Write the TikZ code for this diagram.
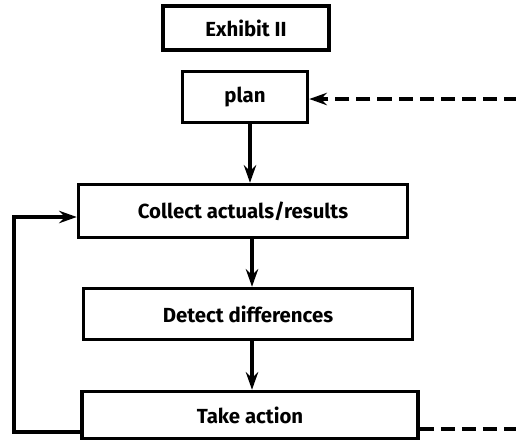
\documentclass[tikz,border=0pt]{standalone}
\usepackage{fontspec}
\setmainfont{Fira Sans}
\usetikzlibrary{arrows.meta}

\tikzset{
  stepbox/.style={draw, line width=2pt, inner sep=0pt, font=\bfseries\fontsize{11.6}{13}\selectfont},
  flow/.style={line width=1.8pt, -{Stealth[length=10pt,width=7pt]}},
  feedback/.style={line width=1.8pt, dash pattern=on 8pt off 4pt}
}

\begin{document}
\begin{tikzpicture}[x=0.02cm, y=-0.02cm]

\useasboundingbox (0,0) rectangle (516,441);

% ===== Boxes =====
\node[stepbox, minimum width=3.32cm, minimum height=0.88cm] (title)   at (246,28)  {Exhibit II};
\node[stepbox, minimum width=2.5cm,  minimum height=1.02cm] (plan)    at (245,97)  {plan};
\node[stepbox, minimum width=6.58cm, minimum height=1.06cm] (collect) at (243,211) {Collect actuals/results};
\node[stepbox, minimum width=6.58cm, minimum height=1.02cm] (detect)  at (248,314) {Detect differences};
\node[stepbox, minimum width=6.72cm, minimum height=0.94cm] (action)  at (250,415) {Take action};

% ===== Main flow =====
\draw[flow] (plan.south -| 250,0) -- (collect.north -| 250,0);
\draw[flow] (collect.south -| 252,0) -- (detect.north -| 252,0);
\draw[flow] (detect.south -| 252,0) -- (action.north -| 252,0);

% ===== Loop back =====
\coordinate (loopout) at (action.west |- 0,432);
\coordinate (loopin)  at (collect.west |- 0,217);
\draw[flow] (loopout) -- (14,432) -- (14,217) -- (loopin);

% ===== Dashed links to the right =====
\coordinate (planback)   at (518,99);
\coordinate (actionback) at (518,429);
\draw[feedback, -{Stealth[length=10pt,width=7pt]}] (planback) -- (plan.east |- planback);
\draw[feedback] (action.east |- actionback) -- (actionback);

\end{tikzpicture}
\end{document}
